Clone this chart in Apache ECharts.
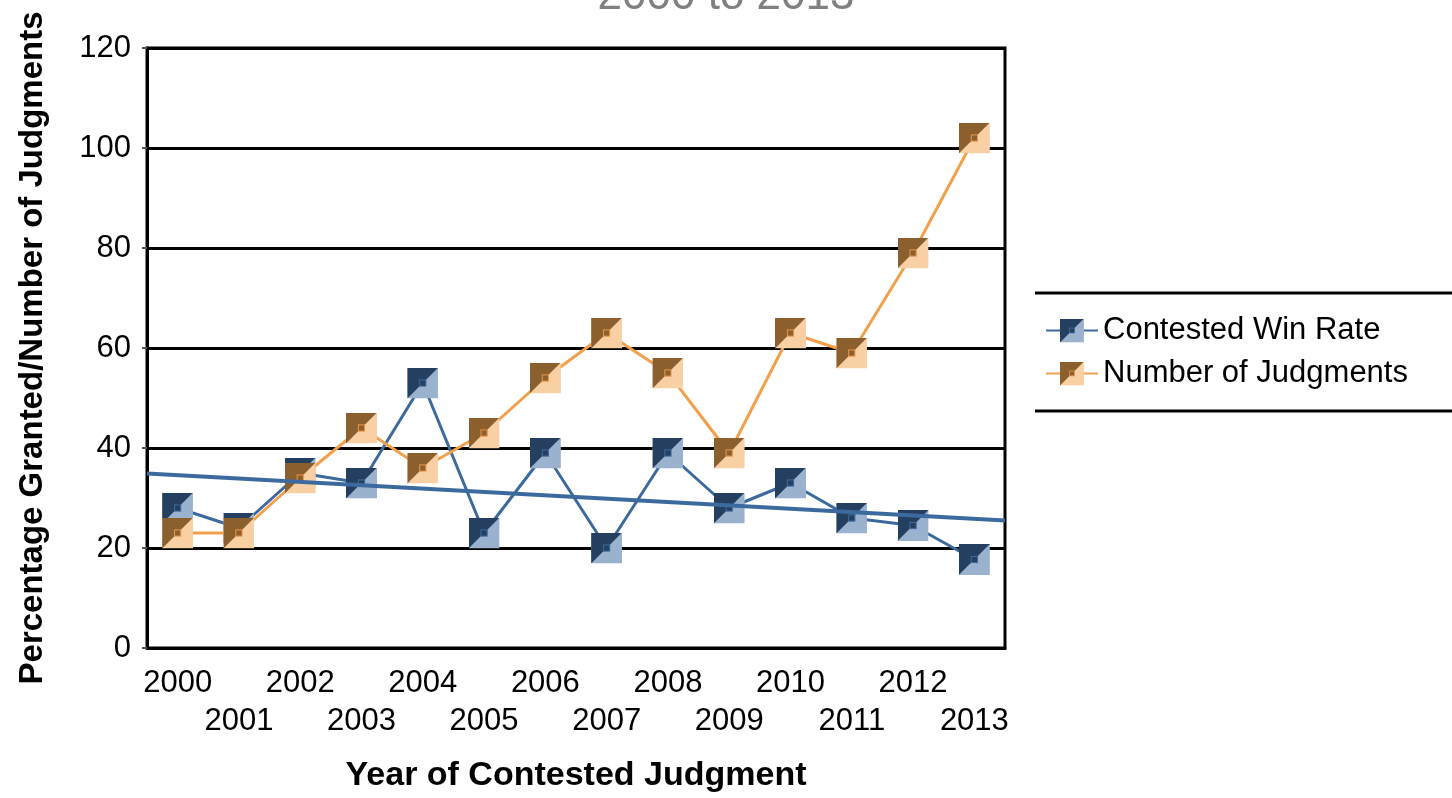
<!DOCTYPE html>
<html>
<head>
<meta charset="utf-8">
<script src="https://cdn.jsdelivr.net/npm/echarts@6/dist/echarts.min.js"></script>
<style>
html,body{margin:0;padding:0;background:#fff;overflow:hidden;}
#chart{width:1452px;height:798px;}
</style>
</head>
<body>
<div id="chart"></div>
<script>
// ---- data ----
const years = ['2000','2001','2002','2003','2004','2005','2006','2007','2008','2009','2010','2011','2012','2013'];
const winRate = [28, 24, 35, 33, 53, 23, 39, 20, 39, 28, 33, 26, 24.5, 17.7];
const judgments = [23, 23, 34, 44, 36, 43, 54, 63, 55, 39, 63, 59, 79, 102];
// linear trend of win rate, read at the left and right edges of the plot
const trendEdges = [-0.5, 13.5];
const trendValues = [34.9, 25.5];
const yTicks = [0, 20, 40, 60, 80, 100, 120];
const titleText = '2000 to 2013';
const seriesNames = ['Contested Win Rate', 'Number of Judgments'];

function markerSvg(dark, light, center, centerBorder) {
  const s = '<svg xmlns="http://www.w3.org/2000/svg" width="60" height="60" viewBox="0 0 30 30">' +
    '<rect x="0.5" y="0.5" width="29" height="29" fill="' + light + '" stroke="' + light + '" stroke-width="1"/>' +
    '<polygon points="0,0 30,0 0,30" fill="' + dark + '"/>' +
    '<rect x="12" y="12" width="6" height="6" fill="' + center + '" stroke="' + centerBorder + '" stroke-width="1"/>' +
    '</svg>';
  return 'image://data:image/svg+xml;charset=utf-8,' + encodeURIComponent(s);
}
const blueMarker = markerSvg('#243F60', '#9AB2CE', '#243F60', '#3D6A9E');
const orangeMarker = markerSvg('#8B5F2E', '#F8D0A4', '#8B5F2E', '#E9964A');

const chart = echarts.init(document.getElementById('chart'), null, {renderer: 'canvas'});
const labelFont = 'Liberation Sans, Arial, sans-serif';

chart.setOption({
  animation: false,
  backgroundColor: '#ffffff',
  title: {
    text: titleText,
    left: 'center',
    top: -30,
    textStyle: {color: '#808080', fontSize: 44, fontWeight: 'normal', fontFamily: labelFont}
  },
  grid: {
    left: 147, right: 447, top: 48, bottom: 145,
    show: true, borderColor: '#000', borderWidth: 3, backgroundColor: 'transparent'
  },
  legend: {
    data: seriesNames,
    orient: 'vertical',
    left: 1045, top: 315,
    padding: 0,
    itemWidth: 52, itemHeight: 30, itemGap: 12,
    textStyle: {fontSize: 31, color: '#000', fontFamily: labelFont, padding: [0,0,0,0]}
  },
  graphic: [
    {type: 'line', shape: {x1: 1035, y1: 293, x2: 1452, y2: 293}, style: {stroke: '#000', lineWidth: 3}},
    {type: 'line', shape: {x1: 1035, y1: 411, x2: 1452, y2: 411}, style: {stroke: '#000', lineWidth: 3}}
  ],
  xAxis: [{
    type: 'category',
    data: years,
    boundaryGap: true,
    axisLine: {show: true, onZero: false, lineStyle: {color: '#000', width: 3}},
    axisTick: {show: false},
    axisLabel: {
      interval: 0, margin: 16, fontSize: 31, lineHeight: 38, color: '#000', fontFamily: labelFont,
      formatter: function (v, i) { return i % 2 ? '\n' + v : v; }
    },
    name: 'Year of Contested Judgment',
    nameLocation: 'middle',
    nameGap: 111,
    nameTextStyle: {fontSize: 34, fontWeight: 'bold', color: '#000', fontFamily: labelFont}
  }, {
    type: 'value',
    min: trendEdges[0], max: trendEdges[1],
    show: false
  }],
  yAxis: {
    type: 'value',
    min: yTicks[0], max: yTicks[yTicks.length - 1], interval: yTicks[1] - yTicks[0],
    axisLine: {show: true, onZero: false, lineStyle: {color: '#000', width: 3}},
    axisTick: {show: true, length: 5, lineStyle: {color: '#555', width: 2}},
    axisLabel: {margin: 16, fontSize: 31, color: '#000', fontFamily: labelFont},
    splitLine: {show: true, lineStyle: {color: '#000', width: 3}},
    name: 'Percentage Granted/Number of Judgments',
    nameLocation: 'middle',
    nameRotate: 90,
    nameGap: 98,
    nameTextStyle: {fontSize: 33, fontWeight: 'bold', color: '#000', fontFamily: labelFont}
  },
  series: [{
    name: seriesNames[0],
    type: 'line',
    data: winRate,
    symbol: blueMarker,
    symbolSize: 31,
    lineStyle: {color: '#3D6A9E', width: 3},
    itemStyle: {color: '#3D6A9E'},
    z: 2
  }, {
    name: seriesNames[1],
    type: 'line',
    data: judgments,
    symbol: orangeMarker,
    symbolSize: 31,
    lineStyle: {color: '#F2A04C', width: 3},
    itemStyle: {color: '#F2A04C'},
    z: 3
  }, {
    name: 'trend',
    type: 'line',
    xAxisIndex: 1,
    data: trendEdges.map(function (x, i) { return [x, trendValues[i]]; }),
    symbol: 'none',
    lineStyle: {color: '#3D6A9E', width: 4},
    z: 4,
    silent: true
  }]
});
</script>
</body>
</html>
